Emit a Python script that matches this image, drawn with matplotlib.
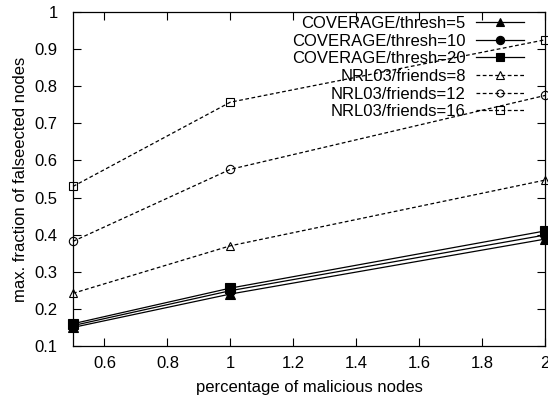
import matplotlib
matplotlib.use("Agg")
import matplotlib.pyplot as plt
import numpy as np

# percentage of malicious nodes
x_pct = [0.5, 1, 2]

cov_thresh5 = [0.150, 0.240, 0.388]
cov_thresh10 = [0.155, 0.249, 0.399]
cov_thresh20 = [0.160, 0.256, 0.410]
nrl_friends8 = [0.242, 0.370, 0.547]
nrl_friends12 = [0.382, 0.576, 0.775]
nrl_friends16 = [0.530, 0.757, 0.925]

labels = ["COVERAGE/thresh=5", "COVERAGE/thresh=10", "COVERAGE/thresh=20",
          "NRL03/friends=8", "NRL03/friends=12", "NRL03/friends=16"]

plt.rcParams['font.family'] = ['Liberation Sans', 'DejaVu Sans']

fig = plt.figure(figsize=(5.48, 3.98), dpi=100)
ax = fig.add_axes([73 / 548, 1 - 346 / 398, (545 - 73) / 548, (346 - 12) / 398])

series = [
    (cov_thresh5, '-', '^', 'k'),
    (cov_thresh10, '-', 'o', 'k'),
    (cov_thresh20, '-', 's', 'k'),
    (nrl_friends8, '--', '^', 'none'),
    (nrl_friends12, '--', 'o', 'none'),
    (nrl_friends16, '--', 's', 'none'),
]
for (vals, ls, mk, fc), lab in zip(series, labels):
    ax.plot(x_pct, vals, color='k', linestyle=ls, linewidth=0.9,
            marker=mk, markersize=7 if fc == 'k' else 6,
            markerfacecolor=fc, markeredgecolor='k', markeredgewidth=0.8,
            dashes=(3, 2) if ls == '--' else (),
            label=lab, clip_on=False)

ax.set_xlim(0.5, 2)
ax.set_ylim(0.1, 1)
ax.set_xticks(np.arange(0.6, 2.01, 0.2))
ax.set_xticklabels(["0.6", "0.8", "1", "1.2", "1.4", "1.6", "1.8", "2"])
ax.set_yticks(np.arange(0.1, 1.01, 0.1))
ax.set_yticklabels(["0.1", "0.2", "0.3", "0.4", "0.5", "0.6", "0.7", "0.8", "0.9", "1"])
ax.tick_params(direction='in', top=True, right=True, length=6, width=0.8,
               labelsize=12, colors='k')
ax.tick_params(axis='x', pad=7)
ax.tick_params(axis='y', pad=11)
for sp in ax.spines.values():
    sp.set_linewidth(0.9)

ax.set_xlabel("percentage of malicious nodes", fontsize=12, labelpad=7)
ax.set_ylabel("max. fraction of falseected nodes", fontsize=12, labelpad=5)

leg = ax.legend(loc='upper right', frameon=False, markerfirst=False,
                fontsize=12, handlelength=2.9, labelspacing=0.16,
                borderaxespad=0.0, handletextpad=0.6, markerscale=0.85,
                bbox_to_anchor=(0.97, 1.008))
for t in leg.get_texts():
    t.set_ha('right')

fig.savefig("out.png", dpi=100)
